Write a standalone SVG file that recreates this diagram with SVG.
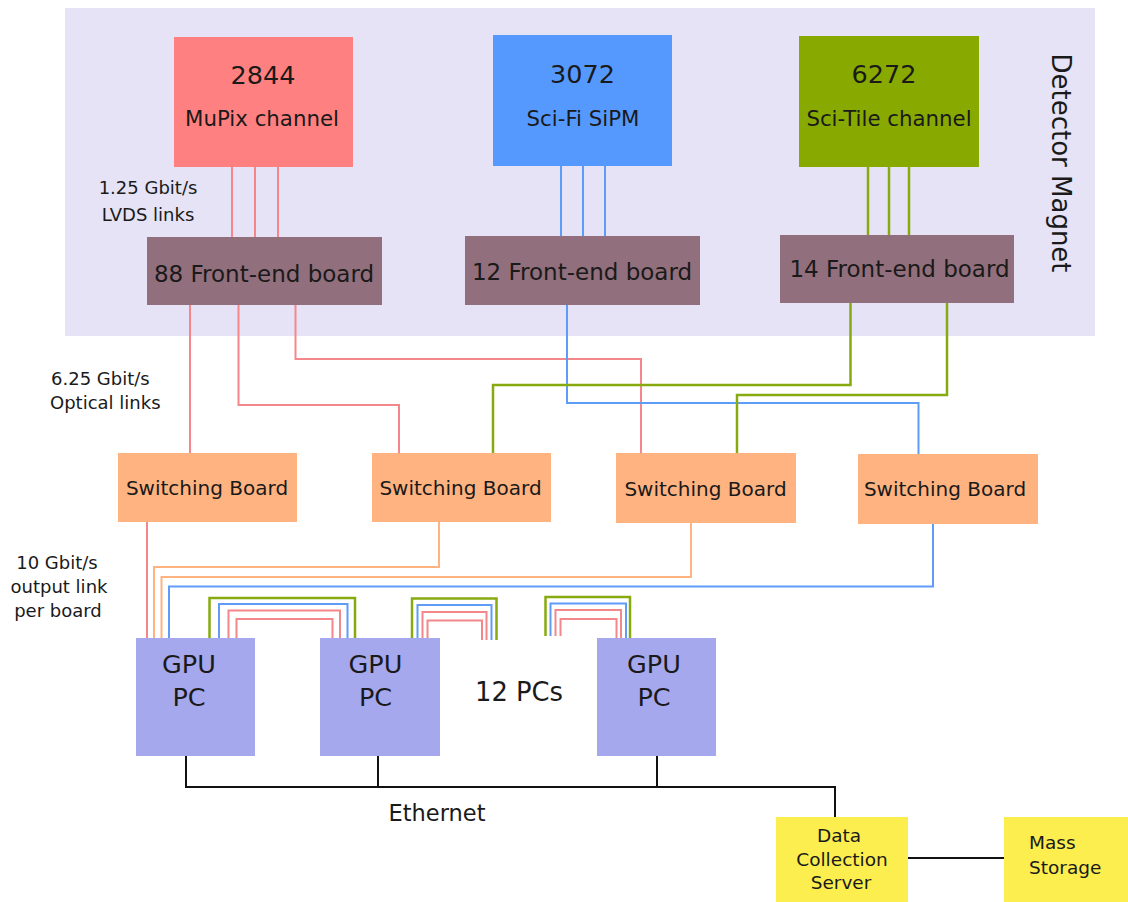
<svg xmlns="http://www.w3.org/2000/svg" width="1128" height="902" viewBox="0 0 1128 902">
<style>
text{font-family:"DejaVu Sans",Verdana,sans-serif;fill:#1a1a1a}
.m{text-anchor:middle}
.big{font-size:25.5px}
.lab{font-size:21.3px}
.fe{font-size:23px}
.sb{font-size:20px}
.note{font-size:18px}
.gpu{font-size:25.5px}
.c{fill:none;stroke-width:2}
.r{stroke:#f4878a}
.b{stroke:#5f9cf8}
.g{stroke:#88aa11;stroke-width:2.5}
.o{stroke:#ffb380}
.k{stroke:#111}
.feb{fill:#916f7c}
.swb{fill:#ffb380}
.pc{fill:#a5a8ec}
.y{fill:#fcee4f}
</style>
<rect id="magnet" x="65" y="8" width="1030" height="328" fill="#e5e3f5"/>
<text class="m" font-size="26" transform="translate(1052,163) rotate(90)">Detector Magnet</text>

<g id="connectors">
  <!-- LVDS links -->
  <path class="c r" d="M232,167V237M255,167V237M278,167V237"/>
  <path class="c b" d="M561,166V236M583,166V236M605,166V236"/>
  <path class="c g" d="M868,167V235M889,167V235M909,167V235"/>
  <!-- optical links -->
  <path class="c r" d="M190,305V453"/>
  <path class="c r" d="M238.5,305V405H399V453"/>
  <path class="c r" d="M295.5,305V359H641V453"/>
  <path class="c b" d="M567,305V403H918.5V454"/>
  <path class="c g" d="M850.5,303V385H493V453"/>
  <path class="c g" d="M947,303V395H737V453"/>
  <!-- output links -->
  <path class="c r" d="M147,522V638"/>
  <path class="c o" d="M439,522V567H154V638"/>
  <path class="c o" d="M691,523V577H161.5V638"/>
  <path class="c b" d="M933,524V586.5H169V638"/>
  <!-- PC loops 1 -->
  <path class="c g" d="M209.5,638V598H355V638"/>
  <path class="c b" d="M219,638V604H347.5V638"/>
  <path class="c r" d="M228.5,638V610.5H340V638"/>
  <path class="c r" d="M236.5,638V619H332.5V638"/>
  <!-- PC loops 2 -->
  <path class="c g" d="M412,638V598.5H496.5V640"/>
  <path class="c b" d="M417.5,638V605H491.5V640"/>
  <path class="c r" d="M422.5,638V612H486.5V640"/>
  <path class="c r" d="M427.5,638V620.5H482V640"/>
  <!-- PC loops 3 -->
  <path class="c g" d="M545.5,636V597H630V638"/>
  <path class="c b" d="M550.5,636V603.5H626V638"/>
  <path class="c r" d="M555.5,636V610H621V638"/>
  <path class="c r" d="M560.5,636V619H616.5V638"/>
  <!-- Ethernet -->
  <path class="c k" d="M186,756V787M378,756V787M657,756V787M185,787H835V817"/>
  <path class="c k" d="M908,858H1004"/>
</g>

<g id="mupix">
  <rect x="174" y="37" width="179" height="130" fill="#ff8080"/>
  <text class="m big" x="263" y="84">2844</text>
  <text class="m lab" x="262" y="126">MuPix channel</text>
</g>
<g id="scifi">
  <rect x="493" y="35" width="179" height="131" fill="#5599ff"/>
  <text class="m big" x="582.5" y="83">3072</text>
  <text class="m lab" x="583" y="126">Sci-Fi SiPM</text>
</g>
<g id="scitile">
  <rect x="799" y="36" width="180" height="131" fill="#88aa00"/>
  <text class="m big" x="884" y="83">6272</text>
  <text class="m lab" x="889" y="126">Sci-Tile channel</text>
</g>
<g id="fe88">
  <rect class="feb" x="147" y="237" width="235" height="68"/>
  <text class="m fe" x="264" y="282">88 Front-end board</text>
</g>
<g id="fe12">
  <rect class="feb" x="465" y="236" width="235" height="69"/>
  <text class="m fe" x="582" y="280">12 Front-end board</text>
</g>
<g id="fe14">
  <rect class="feb" x="780" y="235" width="234" height="68"/>
  <text class="m fe" x="899.5" y="277">14 Front-end board</text>
</g>

<g id="lvds-label">
  <text class="m note" x="148" y="194">1.25 Gbit/s</text>
  <text class="m note" x="148" y="221">LVDS links</text>
</g>
<g id="optical-label">
  <text class="note" x="51" y="385">6.25 Gbit/s</text>
  <text class="note" x="50" y="409">Optical links</text>
</g>
<g id="output-label">
  <text class="m note" x="57" y="569">10 Gbit/s</text>
  <text class="m note" x="59" y="593">output link</text>
  <text class="m note" x="58" y="617">per board</text>
</g>

<g id="sb1">
  <rect class="swb" x="118" y="453" width="179" height="69"/>
  <text class="m sb" x="207" y="495">Switching Board</text>
</g>
<g id="sb2">
  <rect class="swb" x="372" y="453" width="179" height="69"/>
  <text class="m sb" x="460.5" y="495">Switching Board</text>
</g>
<g id="sb3">
  <rect class="swb" x="616" y="453" width="180" height="70"/>
  <text class="m sb" x="705.5" y="496">Switching Board</text>
</g>
<g id="sb4">
  <rect class="swb" x="858" y="454" width="180" height="70"/>
  <text class="m sb" x="945" y="496">Switching Board</text>
</g>

<g id="gpu1">
  <rect class="pc" x="136" y="638" width="119" height="118"/>
  <text class="m gpu" x="189" y="673">GPU</text>
  <text class="m gpu" x="189" y="706">PC</text>
</g>
<g id="gpu2">
  <rect class="pc" x="320" y="638" width="120" height="118"/>
  <text class="m gpu" x="375.5" y="673">GPU</text>
  <text class="m gpu" x="375.5" y="706">PC</text>
</g>
<g id="pcs-label">
  <text font-size="25.8" x="475" y="701">12 PCs</text>
</g>
<g id="gpu3">
  <rect class="pc" x="597" y="638" width="119" height="118"/>
  <text class="m gpu" x="654" y="673">GPU</text>
  <text class="m gpu" x="654" y="706">PC</text>
</g>

<g id="ethernet-label">
  <text class="m" font-size="22.5" x="437" y="821">Ethernet</text>
</g>
<g id="dcs">
  <rect class="y" x="776" y="817" width="132" height="90"/>
  <text class="m" font-size="18.5" x="839" y="842">Data</text>
  <text class="m" font-size="18.5" x="842" y="866">Collection</text>
  <text class="m" font-size="18.5" x="841" y="889">Server</text>
</g>
<g id="storage">
  <rect class="y" x="1004" y="817" width="130" height="90"/>
  <text font-size="18.5" x="1029" y="849">Mass</text>
  <text font-size="18.5" x="1029" y="874">Storage</text>
</g>
</svg>
